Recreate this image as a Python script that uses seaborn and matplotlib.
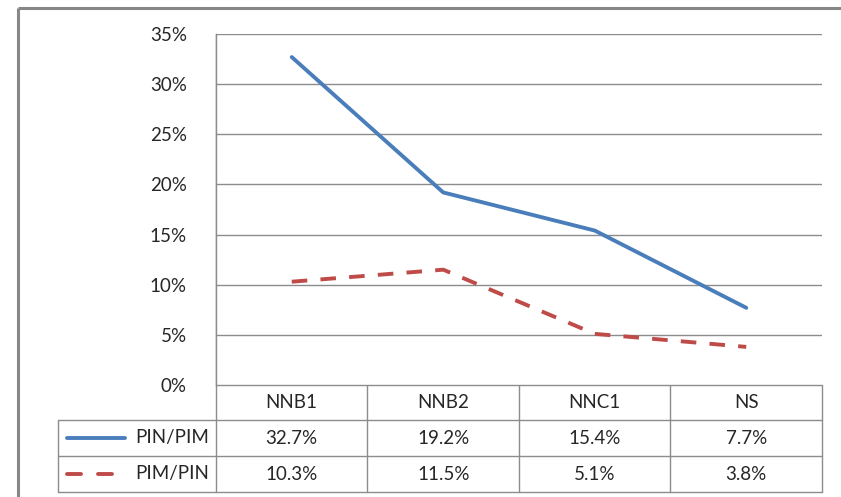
import matplotlib
matplotlib.use('Agg')
import matplotlib.pyplot as plt
import seaborn as sns
import pandas as pd
from matplotlib.ticker import FuncFormatter

# Dados do gráfico
categorias = ['NNB1', 'NNB2', 'NNC1', 'NS']
pin_pim = [32.7, 19.2, 15.4, 7.7]
pim_pin = [10.3, 11.5, 5.1, 3.8]
series = ['PIN/PIM', 'PIM/PIN']
y_ticks = [0, 5, 10, 15, 20, 25, 30, 35]

sns.set_style('white')
plt.rcParams['font.family'] = ['Lato', 'DejaVu Sans']

W, H = 841, 497
fig = plt.figure(figsize=(W / 100, H / 100), dpi=100)

cor_azul = '#4A7EBB'
cor_vermelha = '#BE4B48'
cinza = '#8c8c8c'
texto = '#262626'
fs = 13.5
lw = 2.8

# Eixo de fundo em pixels (moldura e tabela)
bg = fig.add_axes([0, 0, 1, 1])
bg.set_xlim(0, W)
bg.set_ylim(H, 0)
bg.axis('off')

# moldura do gráfico
bg.plot([18.5, 18.5], [7.5, H + 5], color='#878787', lw=2.2, solid_capstyle='butt')
bg.plot([18.5, W + 5], [7.5, 7.5], color='#878787', lw=2.2, solid_capstyle='butt')

# área de plotagem
x0, x1, ytop, ybot = 216, 822, 34, 385
ax = fig.add_axes([x0 / W, (H - ybot) / H, (x1 - x0) / W, (ybot - ytop) / H])

df = pd.DataFrame({'pos': range(len(categorias)), 'PIN/PIM': pin_pim, 'PIM/PIN': pim_pin})
sns.lineplot(data=df, x='pos', y='PIN/PIM', ax=ax, color=cor_azul, lw=lw)
sns.lineplot(data=df, x='pos', y='PIM/PIN', ax=ax, color=cor_vermelha, lw=lw,
             linestyle=(0, (4.0, 3.4)))

ax.set_xlim(-0.5, len(categorias) - 0.5)
ax.set_ylim(0, 35)
ax.set_yticks(y_ticks)
ax.yaxis.set_major_formatter(FuncFormatter(lambda v, p: f'{v:.0f}%'))
ax.set_xticks([])
ax.set_xlabel('')
ax.set_ylabel('')
ax.grid(axis='y', color=cinza, lw=1)
ax.tick_params(axis='y', length=0, pad=21, labelsize=fs, labelcolor=texto)
for lado in ['top', 'right', 'bottom']:
    ax.spines[lado].set_visible(False)
ax.spines['left'].set_color(cinza)
ax.spines['left'].set_linewidth(1)

# Tabela de dados
col_w = (x1 - x0) / len(categorias)
linhas_y = [385, 420, 456, 492]
leg_x = 58
bg.plot([x0, x1], [linhas_y[0], linhas_y[0]], color=cinza, lw=1)
for yy in linhas_y[1:]:
    bg.plot([leg_x, x1], [yy, yy], color=cinza, lw=1)
for i in range(len(categorias) + 1):
    bg.plot([x0 + i * col_w] * 2, [ytop if i == 0 else linhas_y[0], linhas_y[3]], color=cinza, lw=1)
bg.plot([leg_x, leg_x], [linhas_y[1], linhas_y[3]], color=cinza, lw=1)

centros_y = [(linhas_y[k] + linhas_y[k + 1]) / 2 for k in range(3)]
for i, cat in enumerate(categorias):
    cx = x0 + (i + 0.5) * col_w
    bg.text(cx, centros_y[0], cat, ha='center', va='center', fontsize=fs, color=texto)
    bg.text(cx, centros_y[1], f'{pin_pim[i]:.1f}%', ha='center', va='center', fontsize=fs, color=texto)
    bg.text(cx, centros_y[2], f'{pim_pin[i]:.1f}%', ha='center', va='center', fontsize=fs, color=texto)

# legenda dentro da tabela
bg.plot([67, 125], [centros_y[1]] * 2, color=cor_azul, lw=lw, solid_capstyle='round')
bg.plot([67, 81], [centros_y[2]] * 2, color=cor_vermelha, lw=lw, solid_capstyle='round')
bg.plot([98, 112], [centros_y[2]] * 2, color=cor_vermelha, lw=lw, solid_capstyle='round')
bg.text(209, centros_y[1], series[0], ha='right', va='center', fontsize=fs, color=texto)
bg.text(209, centros_y[2], series[1], ha='right', va='center', fontsize=fs, color=texto)

fig.savefig('out.png', dpi=100)
